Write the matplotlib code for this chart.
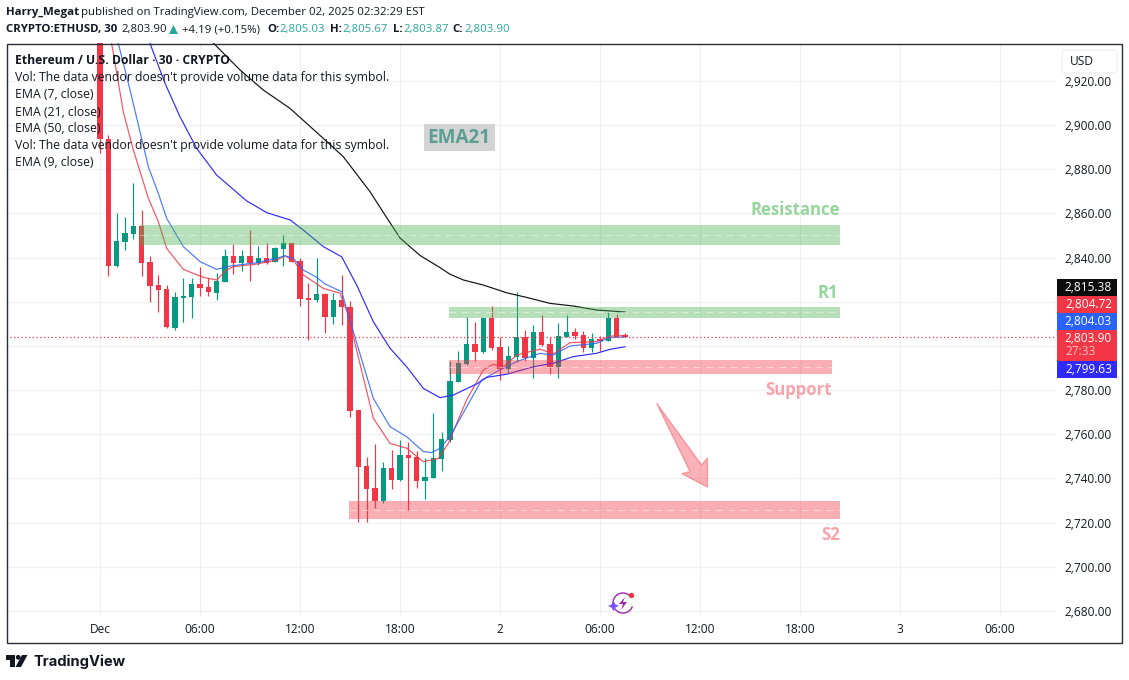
#!/usr/bin/env python3
"""ETHUSD 30 minute chart with EMA lines and hand drawn zones."""

import numpy as np
import matplotlib.pyplot as plt
from matplotlib.patches import Rectangle, Polygon, Circle, Arc, FancyBboxPatch

plt.rcParams['font.family'] = ['Open Sans', 'DejaVu Sans']

# candles, one per 30 minutes starting at Dec 1 00:00
opens = [2960, 2893.6, 2836.2, 2847.3, 2850.7, 2854.3, 2838, 2827.6, 2825.8, 2808.2,
         2821.9, 2822.3, 2828.1, 2826.7, 2824, 2829.1, 2840.8, 2837.6, 2840.8, 2837.4,
         2839.9, 2838.2, 2843.9, 2846.6, 2838.3, 2821.7, 2820.8, 2823.6, 2813.3, 2820.8,
         2817.8, 2771, 2745.7, 2735.5, 2730, 2744.6, 2739.3, 2750.7, 2749.9, 2739,
         2740.4, 2749, 2757.4, 2783.9, 2791.9, 2800.9, 2797.3, 2812.7, 2799.6, 2789.6,
         2795.2, 2804.1, 2794.7, 2806.3, 2800.9, 2790.5, 2804.1, 2806.3, 2805, 2799.1,
         2803.2, 2802.3, 2812.7, 2805.03]
closes = [2893.6, 2836.2, 2847.6, 2851.3, 2854.3, 2837.7, 2827.2, 2825.4, 2808.5, 2822.2,
          2822.7, 2828.1, 2826.1, 2824.4, 2829.3, 2840.8, 2837.6, 2840.8, 2837.6, 2839.9,
          2837.4, 2844.2, 2846.6, 2838.2, 2821.4, 2821, 2823.6, 2813.3, 2820.8, 2817.8,
          2770.7, 2745.4, 2735.2, 2730, 2744.6, 2739.5, 2750.7, 2749.4, 2739, 2740.7,
          2749.3, 2757.9, 2784.2, 2792.2, 2800.9, 2797.3, 2812.7, 2799, 2789.6, 2795.5,
          2804.1, 2794.4, 2806.3, 2800.5, 2790.5, 2804.5, 2806.3, 2804.5, 2799.1, 2803.2,
          2802.1, 2812.7, 2804.1, 2803.9]
highs = [2962, 2895.5, 2860.2, 2858.3, 2873.7, 2861.6, 2840.8, 2832.2, 2827.6, 2824.3,
         2830.6, 2830.8, 2835.6, 2830.6, 2832.9, 2843.9, 2846.2, 2843.5, 2852.5, 2845.3,
         2846.5, 2845, 2850.3, 2846.6, 2839.7, 2828.5, 2839.7, 2823.9, 2823.9, 2832.2,
         2820.5, 2771, 2749.6, 2755.6, 2747.5, 2752.9, 2757.4, 2756.4, 2752.5, 2749.2,
         2769.5, 2761, 2793.2, 2797.7, 2813.3, 2811, 2812.7, 2818.1, 2803.9, 2800,
         2824.3, 2807.3, 2809.5, 2814, 2803.9, 2810.4, 2814, 2808.2, 2806.8, 2805.9,
         2804.5, 2815.4, 2814.5, 2805.67]
lows = [2887.2, 2831.7, 2835.9, 2843.5, 2848.5, 2831.9, 2820.1, 2815.6, 2808, 2807.4,
        2811, 2812.8, 2822.6, 2822.6, 2820.8, 2829.1, 2832.6, 2834.1, 2829.6, 2836.7,
        2837.1, 2838.2, 2836.2, 2837.9, 2818.3, 2802.7, 2820.1, 2806, 2810, 2809.5,
        2767.7, 2720.5, 2720.5, 2726.6, 2729, 2735.2, 2739, 2725.7, 2735.7, 2730.7,
        2740.4, 2743.6, 2756.7, 2783.9, 2791.2, 2793.2, 2797, 2798.2, 2784.6, 2787.6,
        2792.9, 2793.2, 2785.7, 2800, 2787.3, 2785.7, 2804.1, 2803.3, 2797.3, 2797.3,
        2797.7, 2802.3, 2804.1, 2803.87]

# EMA lines (bar number, price)
ema50_x = [12.5, 13.6, 16.8, 19.6, 22.8, 26.8, 29.2, 32.4, 34.2, 36, 38.4, 40.8, 42,
           43.6, 46, 48.8, 51.2, 54, 56.8, 59.6, 63]
ema50_y = [2944, 2937.2, 2925, 2915.9, 2907.6, 2894, 2885.7, 2869.9, 2859.3, 2848.9, 2841,
           2835.5, 2832.5, 2829.9, 2827.6, 2824.1, 2822, 2819.3, 2818.1, 2816.3, 2815.38]
ema21_x = [5, 6, 7.8, 9.6, 11.6, 14, 17.6, 20, 22.8, 24.4, 26.8, 29, 30.8, 32.8, 34.8,
           36.8, 38.8, 40.8, 42.4, 45.2, 46.4, 48.8, 52, 54.4, 56.8, 59.6, 61.2, 63]
ema21_y = [2950, 2937, 2919, 2903.8, 2889.5, 2877.4, 2865.7, 2860.4, 2857.1, 2852.5, 2845,
           2840.4, 2827.6, 2811, 2799, 2790.6, 2780.8, 2776.6, 2777.8, 2782.8, 2785.8,
           2787.2, 2790.6, 2792.2, 2795.2, 2796.7, 2798.5, 2799.63]
ema9_x = [1.5, 2.2, 3.6, 5.8, 7, 8, 10, 12, 14, 15.6, 18.8, 21.2, 22.2, 23.2, 24.4, 26, 27,
          29, 30.4, 32.8, 34.8, 36.8, 38.8, 39.8, 40.8, 42, 44.8, 45.8, 47.6, 50, 52.8,
          54.4, 56.4, 59.6, 61.2, 63]
ema9_y = [2950, 2937, 2916, 2881.2, 2869.1, 2857.8, 2845, 2838.2, 2834.7, 2836.2, 2837.7,
          2839.7, 2840.9, 2839.7, 2834.4, 2831.1, 2828.1, 2824.6, 2806.5, 2776.3, 2763.5,
          2758.9, 2752.2, 2751.7, 2753.7, 2759, 2777.8, 2784.6, 2788.4, 2792.9, 2796.7,
          2795.9, 2800, 2801.2, 2803.9, 2804.03]
ema7_x = [0.8, 1.4, 2.8, 4, 5.8, 7, 8, 10, 12.4, 14, 15.2, 16, 18.8, 21.2, 22.2, 23.2, 24.4,
          26.8, 28.8, 30, 30.4, 32.8, 34.8, 36.8, 38.8, 40.6, 41.8, 44, 46, 47.2, 48.4, 50,
          52.8, 54.4, 56.4, 59.6, 61.2, 63]
ema7_y = [2950, 2937, 2906, 2888.8, 2866.9, 2856.3, 2844.2, 2834.7, 2831.1, 2829.9, 2834.4,
          2835.9, 2837.1, 2838.9, 2840.8, 2838.9, 2832.2, 2826.1, 2823.9, 2811.8, 2804.2,
          2767.3, 2755.9, 2753.7, 2747.6, 2749.1, 2755.9, 2775.6, 2789.1, 2791.7, 2790.6,
          2795.9, 2798.6, 2796.4, 2801.5, 2802, 2804.5, 2804.72]

last_price = 2803.90

# axis labels
price_ticks = list(range(2680, 2921, 20))
# 2,800 and 2,820 sit behind the price tags, so no text for them
hidden_prices = [2800, 2820]
time_ticks = [0, 12, 24, 36, 48, 60, 72, 84, 96, 108]
time_labels = ['Dec', '06:00', '12:00', '18:00', '2', '06:00', '12:00', '18:00', '3', '06:00']

# zones: first bar, last bar, top, bottom
green_zones = [(4.8, 88.8, 2854.8, 2845.7), (41.9, 88.8, 2817.7, 2812.7)]
red_zones = [(41.9, 87.8, 2793.7, 2787.3), (29.9, 88.8, 2729.8, 2721.7)]

arrow_x = [66.8, 70.8, 69.8, 72.9, 72.9, 72.2]
arrow_y = [2774.05, 2743.1, 2742.2, 2736.1, 2749.3, 2746.1]

legend_lines = [
    "Vol: The data vendor doesn't provide volume data for this symbol.",
    "EMA (7, close)",
    "EMA (21, close)",
    "EMA (50, close)",
    "Vol: The data vendor doesn't provide volume data for this symbol.",
    "EMA (9, close)",
]

# right hand price tags: text, colour, top and bottom pixel
price_tags = [
    ('2,815.38', '#0c0c0c', 279, 296),
    ('2,804.72', '#f23645', 296, 313),
    ('2,804.03', '#2962ff', 313, 330),
    ('2,803.90', '#f23645', 330, 361),
    ('2,799.63', '#2f2bff', 361, 378),
]

GREEN = '#089981'
RED = '#f23645'
W, H = 1129, 680

fig = plt.figure(figsize=(W / 100, H / 100), dpi=100, facecolor='white')


def axes_px(x0, y0, x1, y1):
    return fig.add_axes([x0 / W, 1 - y1 / H, (x1 - x0) / W, (y1 - y0) / H])


ax = axes_px(6, 43, 1056, 615)
ax.set_xlim((6 - 100) / (100 / 12), (1056 - 100) / (100 / 12))
ax.set_ylim(2920 - (615 - 81) / 2.2083, 2920 - (43 - 81) / 2.2083)
for s in ax.spines.values():
    s.set_visible(False)

ax.set_xticks(time_ticks)
ax.set_xticklabels(time_labels, fontsize=8.6, color='#131722')
ax.set_yticks(price_ticks)
ax.tick_params(axis='both', length=0)
ax.tick_params(axis='x', pad=6)
ax.tick_params(axis='y', labelleft=False)
ax.grid(True, color='#f0f0f2', lw=0.9)
ax.set_axisbelow(True)

# price scale on the right
scale = axes_px(1056, 43, 1122, 615)
scale.set_ylim(ax.get_ylim())
scale.set_xticks([])
scale.set_yticks(price_ticks)
scale.set_yticklabels(['' if p in hidden_prices else f'{p:,.2f}' for p in price_ticks],
                      fontsize=8.6, color='#131722')
scale.tick_params(axis='y', length=0, pad=-40.3)
for s in scale.spines.values():
    s.set_visible(False)

# candles
x = np.arange(len(opens))
for i in x:
    col = GREEN if closes[i] >= opens[i] else RED
    ax.vlines(i, lows[i], highs[i], color=col, lw=0.85, zorder=3)
    ax.bar(i, abs(closes[i] - opens[i]), bottom=min(opens[i], closes[i]), width=0.62,
           color=col, zorder=3)

# EMAs
ax.plot(ema7_x, ema7_y, color=RED, lw=0.85, alpha=0.85, zorder=4)
ax.plot(ema9_x, ema9_y, color='#2962ff', lw=0.85, alpha=0.85, zorder=4)
ax.plot(ema21_x, ema21_y, color='#2f2bff', lw=0.85, zorder=4)
ax.plot(ema50_x, ema50_y, color='#111111', lw=0.85, zorder=4)

# zones
for zones, col in ((green_zones, '#4caf50'), (red_zones, RED)):
    for x0, x1, ztop, zbottom in zones:
        ax.add_patch(Rectangle((x0, zbottom), x1 - x0, ztop - zbottom, facecolor=col,
                               edgecolor='none', alpha=0.4, zorder=5))
        ax.plot([x0, x1], [(ztop + zbottom) / 2] * 2, color='white', lw=0.8, alpha=0.45,
                dashes=(6, 5), zorder=6)

ax.add_patch(Polygon(np.column_stack([arrow_x, arrow_y]), closed=True, facecolor=RED,
                     edgecolor=RED, alpha=0.38, lw=1, zorder=5))

ax.axhline(last_price, color=RED, lw=0.9, ls=(0, (1, 2)), zorder=4)

# drawn labels
label_kw = dict(ha='right', va='center', fontweight='bold', zorder=7, fontsize=12.1)
ax.text(88.8, 2861.6, 'Resistance', color='#96d69c', **label_kw)
ax.text(88.6, 2824, 'R1', color='#96d69c', **label_kw)
ax.text(87.8, 2780.2, 'Support', color='#f8a3aa', **label_kw)
ax.text(88.8, 2714.5, 'S2', color='#f8a3aa', **label_kw)
ax.text(43.1, 2894.4, 'EMA21', color='#5b9e93', ha='center', va='center', fontweight='bold',
        fontsize=13.6, zorder=7,
        bbox=dict(boxstyle='square,pad=0.2', facecolor='#d3d3d3', edgecolor='none'))

# overlay in pixel coordinates for header, tags, frame and logo
top = fig.add_axes([0, 0, 1, 1], facecolor='none')
top.set_xlim(0, W)
top.set_ylim(H, 0)
top.axis('off')

TXT = '#131722'
TEAL = '#26a69a'


def put(px, py, s, color=TXT, weight='normal', size=8.8, ha='left'):
    top.text(px, py, s, color=color, fontweight=weight, fontsize=size, ha=ha, va='center')


HEAD = 8.2
put(6, 12.5, 'Harry_Megat', weight='bold', size=HEAD)
put(81, 12.5, 'published on TradingView.com, December 02, 2025 02:32:29 EST', size=HEAD)
put(6, 29.5, 'CRYPTO:ETHUSD, 30', weight='bold', size=HEAD)
put(121, 29.5, '2,803.90', size=HEAD)
top.add_patch(Polygon([(169, 34), (178, 34), (173.5, 25)], facecolor=TEAL, edgecolor='none'))
put(182, 29.5, '+4.19 (+0.15%)', size=HEAD)
ohlc = [(267, 'O:', 279, '2,805.03'), (330, 'H:', 342, '2,805.67'),
        (393, 'L:', 403, '2,803.87'), (452, 'C:', 464, '2,803.90')]
for lx, name, vx, val in ohlc:
    put(lx, 29.5, name, weight='bold', size=HEAD)
    put(vx, 29.5, val, color=TEAL, size=HEAD)

put(15, 61, 'Ethereum / U.S. Dollar · 30 · CRYPTO', weight='bold', size=8.7)
for n, line in enumerate(legend_lines):
    put(15, 78 + 17 * n, line)

# USD box
top.add_patch(FancyBboxPatch((1062, 50), 55, 23, boxstyle='round,pad=0,rounding_size=3',
                             facecolor='white', edgecolor='#f0f0f3', lw=1))
put(1069.5, 61.5, 'USD', size=8.6)

# price tags
for s, col, y0, y1 in price_tags:
    top.add_patch(Rectangle((1057, y0), 60, y1 - y0, facecolor=col, edgecolor='none'))
    put(1112, y0 + 8.5, s, color='white', size=8.6, ha='right')
put(1065, 351.5, '27:33', color='#fbc0c5', size=8.6)

# frame
top.add_patch(Rectangle((6.5, 43.5), 1115, 599, fill=False, edgecolor='#2a2e39', lw=1))

# the little flash icon on the chart
top.add_patch(Arc((623, 603), 20, 20, theta1=20, theta2=320, color='#9c27b0', lw=1))
top.add_patch(Polygon([(625, 597), (619, 604), (623, 604), (621, 610), (627, 602), (623, 602)],
                      facecolor='#9c27b0', edgecolor='none'))
top.add_patch(Polygon([(613.5, 601), (615.5, 604.5), (619, 606), (615.5, 607.5), (613.5, 611),
                       (611.5, 607.5), (608, 606), (611.5, 604.5)],
                      facecolor='#7b4dff', edgecolor='none'))
top.add_patch(Circle((631.5, 595.5), 2.7, facecolor=RED, edgecolor='none'))

# TradingView logo
logo = '#131722'
top.add_patch(Polygon([(6, 655), (15, 655), (15, 667), (10, 667), (10, 660), (6, 660)],
                      facecolor=logo, edgecolor='none'))
top.add_patch(Circle((18.2, 657.3), 2.4, facecolor=logo, edgecolor='none'))
top.add_patch(Polygon([(22, 655), (27.5, 655), (21, 667), (15.5, 667)],
                      facecolor=logo, edgecolor='none'))
top.text(33, 661.5, 'TradingView', color=logo, fontsize=10.6, fontweight='bold',
         fontfamily=['Inter', 'DejaVu Sans'], va='center')

fig.savefig('out.png', dpi=100)
